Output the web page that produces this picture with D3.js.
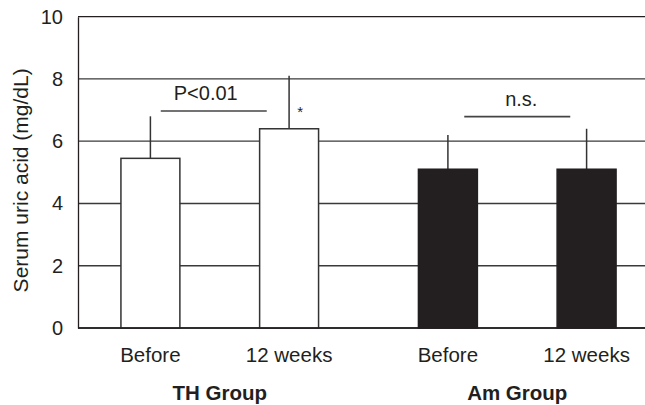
<!DOCTYPE html>
<html><head><meta charset="utf-8">
<script src="https://cdn.jsdelivr.net/npm/d3@7"></script>
<style>body{margin:0;background:#fff}svg{display:block}</style>
</head><body><svg id="c" width="645" height="405"></svg>
<script>
// ---- data ----
const groups = ["TH Group", "Am Group"];
const timepoints = ["Before", "12 weeks"];
const meansTH = [5.45, 6.4];
const meansAm = [5.1, 5.1];
const sdTH = [1.35, 1.7];
const sdAm = [1.1, 1.3];
const yTicks = [0, 2, 4, 6, 8, 10];
const sigLabels = ["P<0.01", "n.s."];
const sigLevels = [6.97, 6.79];
const starLabel = "*";
const yTitle = "Serum uric acid (mg/dL)";

const rows = [];
groups.forEach((g, gi) => {
  const m = gi === 0 ? meansTH : meansAm;
  const s = gi === 0 ? sdTH : sdAm;
  timepoints.forEach((t, ti) => rows.push({group: g, gi, time: t, ti, mean: m[ti], sd: s[ti]}));
});

// ---- layout ----
const svg = d3.select("#c");
const L = 78, T = 16.7, B = 328, R = 645;
const ink = "#231f20";
const font = "'Liberation Sans', Arial, Helvetica, sans-serif";

const y = d3.scaleLinear().domain([0, 10]).range([B, T]);
const x0 = d3.scaleBand().domain(groups).range([71, 666]);
const x1 = d3.scaleBand().domain(timepoints).range([0, x0.bandwidth()]).paddingInner(0.575).paddingOuter(0.36);
const cx = d => x0(d.group) + x1(d.time) + x1.bandwidth() / 2;

// gridlines
svg.append("g").selectAll("line").data(yTicks).join("line")
  .attr("x1", L).attr("x2", R)
  .attr("y1", d => y(d)).attr("y2", d => y(d))
  .attr("stroke", d => (d === 0 || d === 10) ? ink : "#3a3a3a")
  .attr("stroke-width", 1.3);

// y axis
const ax = svg.append("g").attr("transform", `translate(${L},0)`)
  .call(d3.axisLeft(y).tickValues(yTicks).tickSize(0).tickSizeOuter(0).tickPadding(15));
ax.select(".domain").attr("stroke", ink).attr("stroke-width", 1.3);
ax.selectAll("text").attr("font-family", font).attr("font-size", 20).attr("fill", ink);

// error bars (drawn under bars so they start at bar top)
svg.append("g").selectAll("line").data(rows).join("line")
  .attr("x1", cx).attr("x2", cx)
  .attr("y1", d => y(d.mean)).attr("y2", d => y(d.mean + d.sd))
  .attr("stroke", "#333").attr("stroke-width", 1.5);

// bars
svg.append("g").selectAll("rect").data(rows).join("rect")
  .attr("x", d => x0(d.group) + x1(d.time))
  .attr("width", x1.bandwidth())
  .attr("y", d => y(d.mean))
  .attr("height", d => y(0) - y(d.mean))
  .attr("fill", d => d.gi === 0 ? "#fff" : ink)
  .attr("stroke", d => d.gi === 0 ? "#333" : ink)
  .attr("stroke-width", 1.5);

// redraw axis baseline on top
svg.append("line").attr("x1", L).attr("x2", R).attr("y1", y(0)).attr("y2", y(0))
  .attr("stroke", ink).attr("stroke-width", 1.3);

// significance annotations
const sig = svg.append("g");
groups.forEach((g, gi) => {
  const c = x0(g) + x0.bandwidth() / 2;
  const ly = y(sigLevels[gi]);
  sig.append("line").attr("x1", c - 59 + gi * 6).attr("x2", c + 47 + gi * 6)
    .attr("y1", ly).attr("y2", ly).attr("stroke", "#444").attr("stroke-width", 1.6);
  sig.append("text").attr("x", c - 14 + gi * 18).attr("y", ly - 11)
    .attr("text-anchor", "middle").attr("font-family", font).attr("font-size", 20)
    .attr("fill", ink).text(sigLabels[gi]);
});
// asterisk next to TH 12 weeks error bar
const thW = rows[1];
svg.append("text").attr("x", cx(thW) + 11).attr("y", y(sigLevels[0]) + 6)
  .attr("text-anchor", "middle").attr("font-family", font).attr("font-size", 15)
  .attr("fill", ink).text(starLabel);

// x labels
svg.append("g").selectAll("text").data(rows).join("text")
  .attr("x", cx).attr("y", 362)
  .attr("text-anchor", "middle").attr("font-family", font).attr("font-size", 20.5)
  .attr("fill", ink).text(d => d.time);

svg.append("g").selectAll("text").data(groups).join("text")
  .attr("x", d => x0(d) + x0.bandwidth() / 2).attr("y", 400)
  .attr("text-anchor", "middle").attr("font-family", font).attr("font-size", 20.5)
  .attr("font-weight", "bold").attr("fill", ink).text(d => d);

// y title
svg.append("text").attr("transform", `translate(27.5,${(T + B) / 2 + 8}) rotate(-90)`)
  .attr("text-anchor", "middle").attr("font-family", font).attr("font-size", 21)
  .attr("fill", ink).text(yTitle);
</script>
</body></html>
